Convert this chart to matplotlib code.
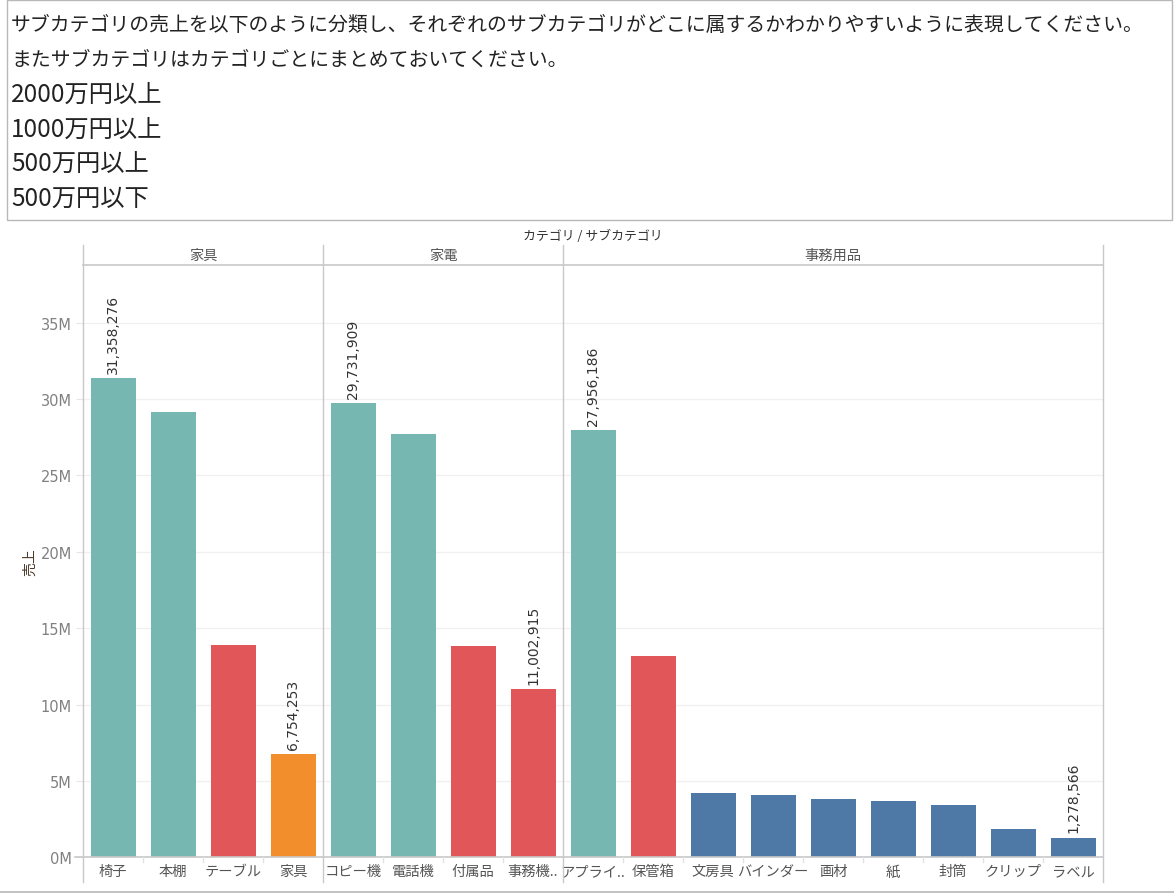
import matplotlib
matplotlib.use("Agg")
import matplotlib.pyplot as plt
import matplotlib.transforms as mtrans
from matplotlib.patches import Rectangle
from matplotlib.lines import Line2D

plt.rcParams['font.family'] = ['Noto Sans CJK JP', 'DejaVu Sans']

# ---------------- data ----------------
categories = ['家具', '家電', '事務用品']
sub_counts = [4, 4, 9]
subcategories = ['椅子', '本棚', 'テーブル', '家具',
                 'コピー機', '電話機', '付属品', '事務機器',
                 'アプライアンス', '保管箱', '文房具', 'バインダー', '画材', '紙', '封筒', 'クリップ', 'ラベル']
tick_labels = ['椅子', '本棚', 'テーブル', '家具',
               'コピー機', '電話機', '付属品', '事務機..',
               'アプライ..', '保管箱', '文房具', 'バインダー', '画材', '紙', '封筒', 'クリップ', 'ラベル']
sales = [31358276, 29150000, 13900000, 6754253,
         29731909, 27700000, 13840000, 11002915,
         27956186, 13180000, 4200000, 4070000, 3810000, 3690000, 3430000, 1875000, 1278566]
labeled = ['椅子', '家具', 'コピー機', '事務機器', 'アプライアンス', 'ラベル']
thresholds = [20e6, 10e6, 5e6]
band_colors = ['#76b7b2', '#e15759', '#f28e2b', '#4e79a7']
y_ticks = [0, 5e6, 10e6, 15e6, 20e6, 25e6, 30e6, 35e6]
y_tick_labels = ['0M', '5M', '10M', '15M', '20M', '25M', '30M', '35M']
title_lines = [
    'サブカテゴリの売上を以下のように分類し、それぞれのサブカテゴリがどこに属するかわかりやすいように表現してください。',
    'またサブカテゴリはカテゴリごとにまとめておいてください。',
    '2000万円以上',
    '1000万円以上',
    '500万円以上',
    '500万円以下',
]
title_sizes = [14.3, 14.3, 17.5, 17.5, 17.5, 17.5]

W, H = 1174, 895
fig = plt.figure(figsize=(W / 100, H / 100), dpi=100)

def fx(px):
    return px / W

def fy(py):
    return 1 - py / H

# ---------------- title box ----------------
fig.add_artist(Rectangle((fx(7), fy(221)), fx(1172) - fx(7), fy(1) - fy(221),
                         transform=fig.transFigure, fill=False, edgecolor='#b8b8b8', lw=1))
for i, (line, fs) in enumerate(zip(title_lines, title_sizes)):
    fig.text(fx(11), fy(25 + i * 34.8), line, fontsize=fs, color='#222222',
             ha='left', va='center')
fig.add_artist(Line2D([0, 1], [fy(893), fy(893)], transform=fig.transFigure,
                      color='#b8b8b8', lw=1.2))

# ---------------- chart ----------------
ax_left, ax_right, ax_top, ax_bot = 83, 1103, 266, 858.4
ax = fig.add_axes([fx(ax_left), fy(ax_bot), fx(ax_right) - fx(ax_left), fy(ax_top) - fy(ax_bot)])
n = len(subcategories)
x = list(range(n))
ymax = (ax_bot - ax_top) / 15.28 * 1e6
ax.set_xlim(-0.5, n - 0.5)
ax.set_ylim(0, ymax)

def color_for(v):
    for t, c in zip(thresholds, band_colors):
        if v >= t:
            return c
    return band_colors[-1]

colors = [color_for(v) for v in sales]
ax.bar(x, sales, width=0.75, color=colors, zorder=3)

for xi, name, v in zip(x, subcategories, sales):
    if name in labeled:
        ax.annotate(f'{v:,}', (xi, v), xytext=(0, 4), textcoords='offset points',
                    rotation=90, ha='center', va='bottom', fontsize=10,
                    family='DejaVu Sans', color='#333333', zorder=4)

for s in ax.spines.values():
    s.set_visible(False)
ax.set_yticks(y_ticks)
ax.set_yticklabels(y_tick_labels, family='DejaVu Sans')
ax.tick_params(axis='y', length=5, color='#e6e6e6', labelsize=10.5, labelcolor='#808080', pad=3)
ax.set_xticks(x)
ax.set_xticklabels(tick_labels)
ax.tick_params(axis='x', length=0, labelsize=10.3, labelcolor='#555555', pad=5)
ax.grid(axis='y', color='#f0f0f0', lw=1, zorder=0)
ax.set_axisbelow(True)

fig.text(fx(30), fy(562), '売上', rotation=90, fontsize=10, color='#4a3a2a',
         ha='center', va='center')

axh = ax_bot - ax_top
y_top_ext = (ax_bot - 246) / axh
y_bot_ext = (ax_bot - 883) / axh
blend = mtrans.blended_transform_factory(ax.transData, ax.transAxes)
line_color = '#c8c8c8'

# panel boundaries
bounds = [-0.5]
acc = -0.5
for c in sub_counts:
    acc += c
    bounds.append(acc)
for b in bounds:
    ax.plot([b, b], [y_bot_ext, y_top_ext], transform=blend, color=line_color,
            lw=1, clip_on=False, zorder=5)
# header bottom line
ax.plot([-0.5, n - 0.5], [1, 1], transform=blend, color=line_color, lw=1.2, clip_on=False, zorder=5)
# x axis baseline
ax.plot([-0.63, n - 0.5], [0, 0], transform=blend, color=line_color, lw=1.2, clip_on=False, zorder=5)
# small separators between sub-category cells
for k in range(n - 1):
    b = k + 0.5
    if b in bounds:
        continue
    ax.plot([b, b], [0, -5 / axh], transform=blend, color='#e2e2e2', lw=1, clip_on=False, zorder=5)

# panel headers
hdr_y = (ax_bot - 256) / axh
for cat, lo, hi in zip(categories, bounds[:-1], bounds[1:]):
    ax.text((lo + hi) / 2, hdr_y, cat, transform=blend, ha='center', va='center',
            fontsize=10.3, color='#555555')
ax.text(0.5, (ax_bot - 236) / axh, 'カテゴリ / サブカテゴリ', transform=ax.transAxes,
        ha='center', va='center', fontsize=9.3, color='#333333')

fig.savefig('out.png', dpi=100)
